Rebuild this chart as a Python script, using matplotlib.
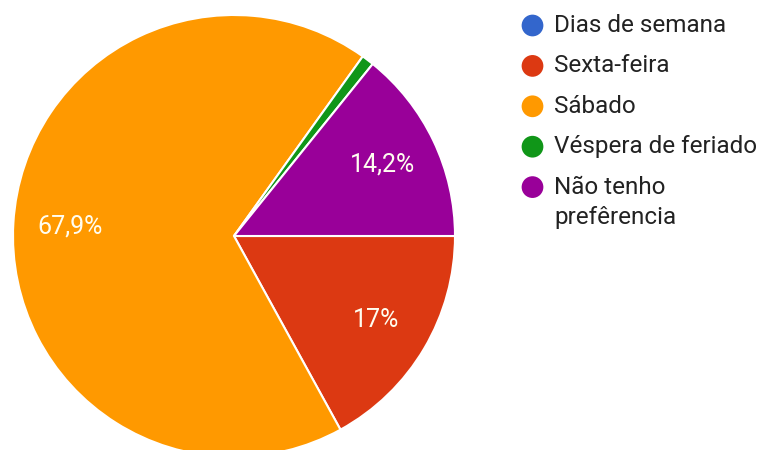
import matplotlib
matplotlib.use("Agg")
import matplotlib.pyplot as plt
import numpy as np

categories = ["Dias de semana", "Sexta-feira", "Sábado", "Véspera de feriado", "Não tenho\nprefêrencia"]
values = [0.0, 17.0, 67.9, 0.9, 14.2]
pct_labels = ["", "17%", "67,9%", "", "14,2%"]
colors = ["#3366CC", "#DC3912", "#FF9900", "#109618", "#990099"]

plt.rcParams['font.family'] = ['Roboto', 'DejaVu Sans']

W, H = 766, 450
fig = plt.figure(figsize=(W / 100, H / 100), dpi=100)
cx, cy, r = 234, 236, 221
ax = fig.add_axes([(cx - r) / W, (H - cy - r) / H, 2 * r / W, 2 * r / H])

wedges, _ = ax.pie(values, colors=colors, startangle=0, counterclock=False,
                   radius=1.0, wedgeprops=dict(edgecolor="white", linewidth=1.5))
ax.set_xlim(-1, 1)
ax.set_ylim(-1, 1)
ax.set_aspect("equal")
ax.axis("off")

total = sum(values)
ang = 0.0
for v, lab in zip(values, pct_labels):
    span = v / total * 360
    mid = np.deg2rad(ang - span / 2)
    ang -= span
    if lab:
        ax.text(0.745 * np.cos(mid), 0.745 * np.sin(mid), lab, color="#FFFDF0",
                fontsize=18, ha="center", va="center")

# legend drawn in pixel coordinates
lax = fig.add_axes([0, 0, 1, 1], zorder=5)
lax.set_xlim(0, W)
lax.set_ylim(H, 0)
lax.axis("off")
y0, step, line_h = 25.5, 40.4, 30
for i, (cat, c) in enumerate(zip(categories, colors)):
    y = y0 + step * i
    lax.scatter([532.5], [y], s=245, color=c, edgecolor="none")
    for j, line in enumerate(cat.split("\n")):
        lax.text(554, y + j * line_h, line, fontsize=17.5, color="#222222",
                 ha="left", va="center")

fig.savefig("out.png", dpi=100)
